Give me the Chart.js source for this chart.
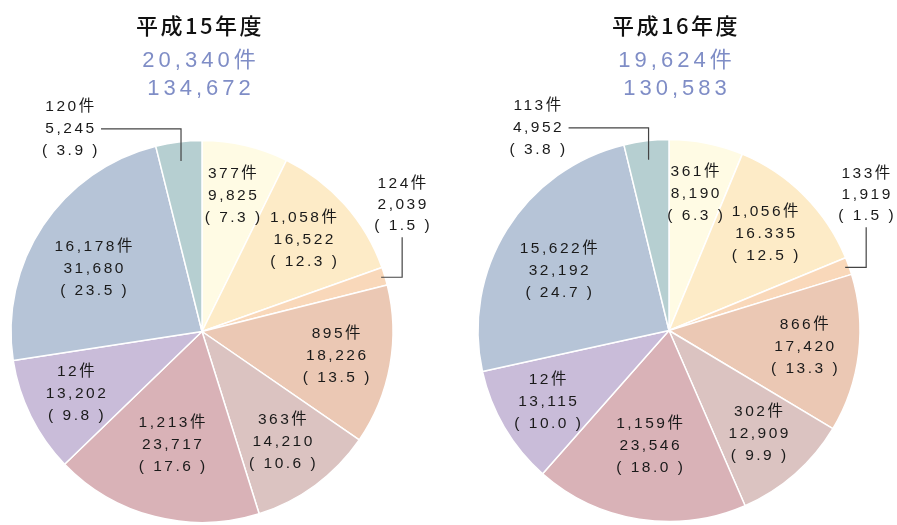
<!DOCTYPE html>
<html>
<head>
<meta charset="utf-8">
<script src="https://cdn.jsdelivr.net/npm/chart.js@4"></script>
<style>
body { margin: 0; background: #fff; width: 897px; height: 525px; overflow: hidden; position: relative; }
.box { position: absolute; top: 0; width: 448px; height: 525px; }
</style>
</head>
<body>
<div class="box" style="left:0"><canvas id="c15" width="448" height="525"></canvas></div>
<div class="box" style="left:449px"><canvas id="c16" width="448" height="525"></canvas></div>
<script>
// 平成15年度
var title15 = '平成15年度';
var total15 = ['20,340件', '134,672'];
var counts15 = [377, 1058, 124, 895, 363, 1213, 12, 16178, 120];
var values15 = [9825, 16522, 2039, 18226, 14210, 23717, 13202, 31680, 5245];
var valueText15 = ['9,825', '16,522', '2,039', '18,226', '14,210', '23,717', '13,202', '31,680', '5,245'];
var pcts15 = ['7.3', '12.3', '1.5', '13.5', '10.6', '17.6', '9.8', '23.5', '3.9'];

// 平成16年度
var title16 = '平成16年度';
var total16 = ['19,624件', '130,583'];
var counts16 = [361, 1056, 133, 866, 302, 1159, 12, 15622, 113];
var values16 = [8190, 16335, 1919, 17420, 12909, 23546, 13115, 32192, 4952];
var valueText16 = ['8,190', '16.335', '1,919', '17,420', '12,909', '23,546', '13,115', '32,192', '4,952'];
var pcts16 = ['6.3', '12.5', '1.5', '13.3', '9.9', '18.0', '10.0', '24.7', '3.8'];

var sliceColors = ['#FFFBE4', '#FDEBC7', '#F9D8BA', '#EBC8B4', '#DBC3C1', '#D9B2B7', '#C9BCD9', '#B6C4D7', '#B6CFD1'];

// where each label goes: r = fraction of radius, da = angle nudge, or an outside leader
var labelPos = [
    { r: 0.73 }, { r: 0.72 }, { out: 'upRight', rf: 0.98 }, { r: 0.72 }, { r: 0.72 },
    { r: 0.61 }, { r: 0.73 }, { r: 0.65, da: -0.06 }, { out: 'upLeft', rf: 0.9 }
];

var pieText = {
    id: 'pieText',
    afterDraw: function(chart) {
        var o = chart.options.plugins.pieText;
        var ctx = chart.ctx;
        var arcs = chart.getDatasetMeta(0).data;
        var area = chart.chartArea;
        var mx = (area.left + area.right) / 2;

        ctx.save();
        ctx.textAlign = 'center';
        ctx.textBaseline = 'middle';

        // headings
        ctx.fillStyle = '#111';
        ctx.font = '500 22px "Noto Sans CJK JP", sans-serif';
        ctx.letterSpacing = '2.5px';
        ctx.fillText(o.title, mx + o.dx + 1, 26);
        ctx.fillStyle = '#7F8DC6';
        ctx.font = '22px "Liberation Sans", "Noto Sans CJK JP", sans-serif';
        ctx.letterSpacing = '4px';
        ctx.fillText(o.total[0], mx + o.dx + 2, 61);
        ctx.fillText(o.total[1], mx + o.dx + 2, 89);

        // slice labels
        ctx.fillStyle = '#1a1a1a';
        ctx.strokeStyle = '#444';
        ctx.lineWidth = 1.2;
        ctx.font = '15.5px "Liberation Sans", "Noto Sans CJK JP", sans-serif';
        ctx.letterSpacing = '2.5px';
        arcs.forEach(function(arc, i) {
            var p = arc.getProps(['x', 'y', 'startAngle', 'endAngle', 'outerRadius']);
            var pos = labelPos[i];
            var a = (p.startAngle + p.endAngle) / 2 + (pos.da || 0);
            var lines = [o.counts[i].toLocaleString('en-US') + '件', o.values[i], '( ' + o.pcts[i] + ' )'];
            var k;
            if (pos.out) {
                var ax = p.x + Math.cos(a) * p.outerRadius * pos.rf;
                var ay = p.y + Math.sin(a) * p.outerRadius * pos.rf;
                ctx.beginPath();
                if (pos.out === 'upLeft') {
                    ctx.moveTo(ax, ay);
                    ctx.lineTo(ax, ay - 32);
                    ctx.lineTo(ax - 80, ay - 32);
                    ctx.stroke();
                    for (k = 0; k < 3; k++) ctx.fillText(lines[k], ax - 110, ay - 54 + k * 22);
                } else {
                    ctx.moveTo(ax, ay);
                    ctx.lineTo(ax + 21, ay);
                    ctx.lineTo(ax + 21, ay - 40);
                    ctx.stroke();
                    for (k = 0; k < 3; k++) ctx.fillText(lines[k], ax + 22, ay - 94 + k * 21);
                }
            } else {
                var r = p.outerRadius * pos.r;
                var cx = p.x + Math.cos(a) * r;
                var cy = p.y + Math.sin(a) * r;
                for (k = 0; k < 3; k++) ctx.fillText(lines[k], cx, cy + (k - 1) * 22);
            }
        });
        ctx.restore();
    }
};

function CreatePie(id, title, total, counts, values, valueText, pcts, pad, dx) {
    var ctx = document.getElementById(id).getContext('2d');
    new Chart(ctx, {
        type: 'pie',
        data: {
            labels: pcts,
            datasets: [{
                data: values,
                backgroundColor: sliceColors,
                borderColor: '#fff',
                borderWidth: 1.5,
                radius: 191
            }]
        },
        options: {
            responsive: false,
            animation: false,
            layout: { padding: pad },
            plugins: {
                legend: { display: false },
                tooltip: { enabled: false },
                pieText: { title: title, total: total, counts: counts, values: valueText, pcts: pcts, dx: dx }
            }
        },
        plugins: [pieText]
    });
}

CreatePie('c15', title15, total15, counts15, values15, valueText15, pcts15,
    { left: 10, right: 54, top: 139, bottom: 1 }, -3);
CreatePie('c16', title16, total16, counts16, values16, valueText16, pcts16,
    { left: 28, right: 36, top: 138, bottom: 2 }, 6);
</script>
</body>
</html>
